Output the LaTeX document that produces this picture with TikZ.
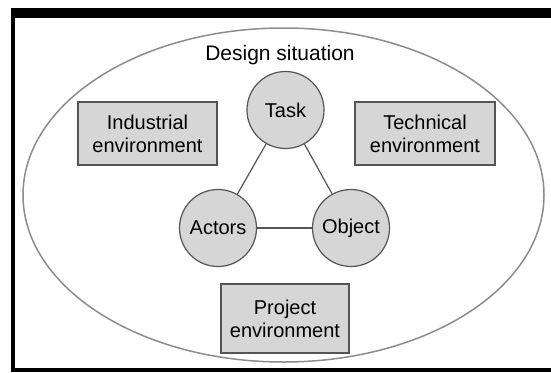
\documentclass[tikz,border=0pt]{standalone}
\usepackage{fontspec}
\setmainfont{Liberation Sans}
\usetikzlibrary{shapes.geometric}
\definecolor{fillgray}{HTML}{D6D6D6}
\definecolor{edgegray}{HTML}{555555}
\definecolor{ellgray}{HTML}{8C8C8C}
\begin{document}
\begin{tikzpicture}[x=1pt,y=-1pt,
  font=\fontsize{20}{23}\selectfont,
  bubble/.style={circle, draw=edgegray, fill=fillgray, line width=1.2pt, minimum size=77pt, inner sep=0pt},
  envbox/.style={rectangle, draw=edgegray, fill=fillgray, line width=1.2pt, align=center, inner sep=0pt},
  link/.style={draw=edgegray, line width=1.2pt},
  bar/.style={fill=black, draw=none}]
\useasboundingbox (0,0) rectangle (551,372);
\fill[white] (0,0) rectangle (551,372);
% frame
\path[bar] (11,8) rectangle (551,18);
\path[bar] (11,8) rectangle (15,372);
\path[bar] (11,368) rectangle (551,372);
% design situation ellipse
\node[ellipse, draw=ellgray, line width=1.5pt, minimum width=521pt, minimum height=334pt, inner sep=0pt] (sit) at (283.5,195) {};
\node[anchor=base, font=\fontsize{21}{24}\selectfont] (title) at (280,60) {Design situation};
% environment boxes
\node[envbox, minimum width=139pt, minimum height=63pt] (ind) at (147.5,133.5) {Industrial\\environment};
\node[envbox, minimum width=140pt, minimum height=63pt] (tech) at (425,133.5) {Technical\\environment};
\node[envbox, minimum width=128pt, minimum height=69pt] (proj) at (285,318.5) {Project\\environment};
% triangle of circles
\node[bubble] (task) at (285.5,110) {Task};
\node[bubble] (actors) at (218,228) {Actors};
\node[bubble] (object) at (351,228) {Object};
\draw[link] (task) -- (actors);
\draw[link] (task) -- (object);
\draw[link] (actors) -- (object);
\end{tikzpicture}
\end{document}
